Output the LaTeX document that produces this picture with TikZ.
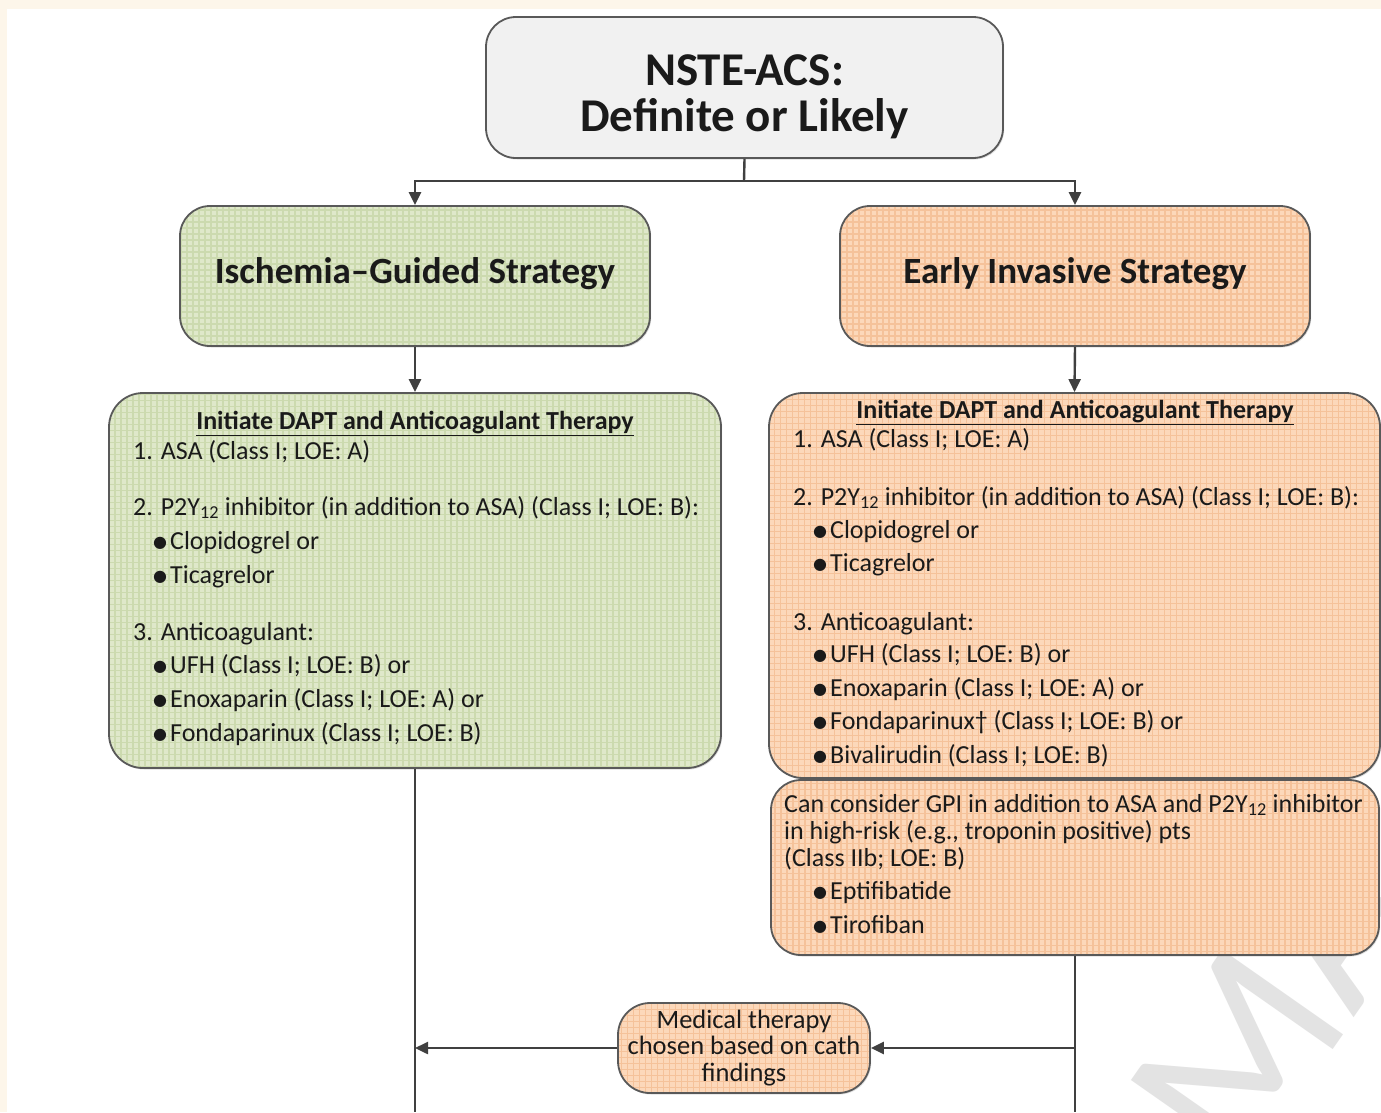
\documentclass[tikz,border=0pt]{standalone}
\usepackage{fontspec}
\setmainfont{Carlito}
\newfontfamily\symfont{DejaVu Sans}
\usetikzlibrary{arrows.meta,shadows}

\definecolor{cream}{HTML}{FDF6EA}
\definecolor{edge}{HTML}{595959}
\definecolor{wire}{HTML}{404040}
\definecolor{ink}{HTML}{1A1A1A}
\definecolor{greybox}{HTML}{F1F1F1}
\definecolor{greenbase}{HTML}{DFE8CA}
\definecolor{greengrid}{HTML}{CCDAAF}
\definecolor{peachbase}{HTML}{FCD8BA}
\definecolor{peachgrid}{HTML}{F5C29A}

\newcommand\bul{\raisebox{2pt}{\symfont\fontsize{16}{16}\selectfont ●}\hspace{3pt}}
\newcommand\ptwo{P2Y\textsubscript{12}}

\tikzset{
  box/.style={draw=edge, line width=1.8pt, inner sep=0pt, align=center, text=ink,
    drop shadow={shadow xshift=1.2pt, shadow yshift=-1.5pt, opacity=0.25}},
  greenbox/.style={box, fill=greenbase, path picture={
    \draw[greengrid, line width=1.3pt] (path picture bounding box.south west)
      grid[step=6pt] (path picture bounding box.north east);}},
  peachbox/.style={box, fill=peachbase, path picture={
    \draw[peachgrid, line width=1.3pt] (path picture bounding box.south west)
      grid[step=6pt] (path picture bounding box.north east);}},
  txt/.style={anchor=base west, inner sep=0pt, text=ink, font=\fontsize{26}{30}\selectfont},
  ttl/.style={txt, anchor=base, font=\bfseries\fontsize{26}{30}\selectfont},
  heading/.style={inner sep=0pt, align=center, text=ink, font=\bfseries\fontsize{37}{37}\selectfont},
  wmark/.style={text=black!11, font=\fontsize{230}{230}\selectfont, rotate=55, anchor=base west, inner sep=0pt},
  wirestyle/.style={draw=wire, line width=2.4pt},
  arrowed/.style={wirestyle, -{Triangle[length=13pt, width=12pt]}},
}

\begin{document}
\begin{tikzpicture}[x=1pt, y=-1pt]
\useasboundingbox (0,0) rectangle (1381,1112);
\fill[white] (0,0) rectangle (1381,1112);
\fill[cream] (0,0) rectangle (1381,9);
\fill[cream] (0,0) rectangle (7,1112);

% watermark letters, running up to the right
\begin{scope}
\clip (0,0) rectangle (1381,1112);
\node[wmark] (wm1) at (1241,1181) {M};
\node[wmark] (wm2) at (1353,1019) {A};
\end{scope}

% decision and strategy boxes
\node[box, fill=greybox, rounded corners=30pt, minimum width=517, minimum height=141] (top) at (744.5,87.5) {};
\node[heading, font=\bfseries\fontsize{47}{46}\selectfont] (toptext) at (744.5,96.5) {NSTE-ACS:\\Definite or Likely};
\node[greenbox, rounded corners=30pt, minimum width=470, minimum height=140] (isch) at (415,276) {};
\node[heading] (ischtext) at (415,274) {Ischemia--Guided Strategy};
\node[peachbox, rounded corners=30pt, minimum width=470, minimum height=140] (inv) at (1075,276) {};
\node[heading] (invtext) at (1075,274) {Early Invasive Strategy};

% therapy boxes
\node[greenbox, rounded corners=34pt, minimum width=612, minimum height=375] (ldet) at (415,580.5) {};
\node[peachbox, rounded corners=34pt, minimum width=611, minimum height=385] (rdet) at (1074.5,585.5) {};
\node[peachbox, rounded corners=30pt, minimum width=608, minimum height=175] (gpi) at (1075,867.5) {};
\node[peachbox, rounded corners=32pt, minimum width=252, minimum height=90,
  font=\fontsize{26.5}{26.5}\selectfont] (med) at (744,1048) {Medical therapy\\chosen based on cath\\findings};

% left therapy text
\node[ttl] (lt) at (415,429) {\underline{Initiate DAPT and Anticoagulant Therapy}};
\node[txt] (l1) at (133,459) {1. ASA (Class I; LOE: A)};
\node[txt] (l2) at (133,515) {2. \ptwo{} inhibitor (in addition to ASA) (Class I; LOE: B):};
\node[txt] (l2a) at (153,549) {\bul Clopidogrel or};
\node[txt] (l2b) at (153,583) {\bul Ticagrelor};
\node[txt] (l3) at (133,640) {3. Anticoagulant:};
\node[txt] (l3a) at (153,673) {\bul UFH (Class I; LOE: B) or};
\node[txt] (l3b) at (153,707) {\bul Enoxaparin (Class I; LOE: A) or};
\node[txt] (l3c) at (153,741) {\bul Fondaparinux (Class I; LOE: B)};

% right therapy text
\node[ttl] (rt) at (1075,418) {\underline{Initiate DAPT and Anticoagulant Therapy}};
\node[txt] (r1) at (793,447) {1. ASA (Class I; LOE: A)};
\node[txt] (r2) at (793,505) {2. \ptwo{} inhibitor (in addition to ASA) (Class I; LOE: B):};
\node[txt] (r2a) at (813,538) {\bul Clopidogrel or};
\node[txt] (r2b) at (813,571) {\bul Ticagrelor};
\node[txt] (r3) at (793,630) {3. Anticoagulant:};
\node[txt] (r3a) at (813,662) {\bul UFH (Class I; LOE: B) or};
\node[txt] (r3b) at (813,696) {\bul Enoxaparin (Class I; LOE: A) or};
\node[txt] (r3c) at (813,729) {\bul Fondaparinux† (Class I; LOE: B) or};
\node[txt] (r3d) at (813,763) {\bul Bivalirudin (Class I; LOE: B)};

% GPI text
\node[txt] (g1) at (784,812) {Can consider GPI in addition to ASA and \ptwo{} inhibitor};
\node[txt] (g2) at (784,839) {in high-risk (e.g., troponin positive) pts};
\node[txt] (g3) at (784,866) {(Class IIb; LOE: B)};
\node[txt] (g3a) at (813,899) {\bul Eptifibatide};
\node[txt] (g3b) at (813,933) {\bul Tirofiban};

% connectors
\coordinate (fork) at (744,181);
\draw[wirestyle] (top.south) -- (fork);
\draw[arrowed] (fork) -| (isch.north);
\draw[arrowed] (fork) -| (inv.north);
\draw[arrowed] (isch.south) -- (ldet.north);
\draw[arrowed] (inv.south) -- (rdet.north);

\coordinate (lend) at (415,1112);
\coordinate (rend) at (1075,1112);
\coordinate (lj) at (415,1048);
\coordinate (rj) at (1075,1048);
\draw[wirestyle] (ldet.south) -- (lend);
\draw[wirestyle] (gpi.south) -- (rend);
\draw[arrowed] (rj) -- (med.east);
\draw[arrowed] (med.west) -- (lj);
\end{tikzpicture}
\end{document}
